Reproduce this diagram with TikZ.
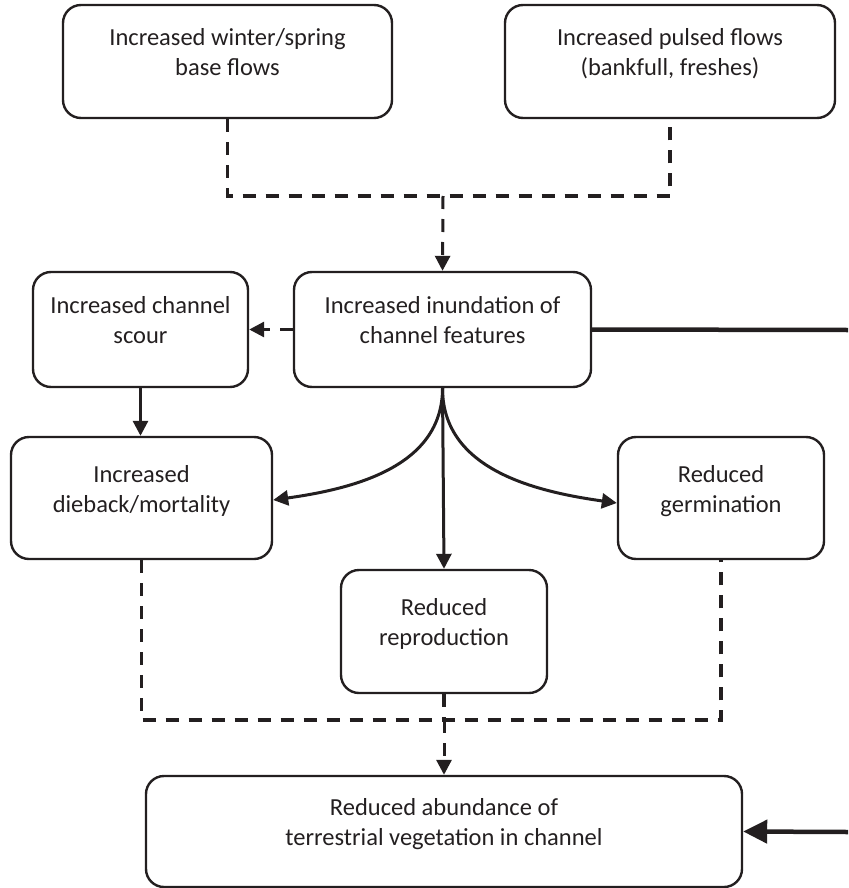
\documentclass[tikz,border=0pt]{standalone}
\usepackage{fontspec}
\setmainfont{Carlito}
\usetikzlibrary{arrows.meta}
\definecolor{ink}{RGB}{35,31,32}

\begin{document}
\begin{tikzpicture}[x=1pt, y=-1pt, ink, line join=miter,
    main/.style = {draw, line width=2.4pt, rounded corners=18pt, align=center,
                   font=\fontsize{24.5}{30}\selectfont, text=ink, text depth=19pt},
    arr/.style = {line width=3pt, -{Triangle[length=15pt,width=15pt]}},
    dash line/.style = {line width=3.5pt, dash pattern=on 13pt off 10pt},
    big arr/.style = {line width=4.5pt, -{Triangle[length=24pt,width=23pt]}}]
        \useasboundingbox (0,0) rectangle (848,888);

        \node[main, minimum width=329pt, minimum height=113pt] (base) at (227.5,61.5) {Increased winter/spring\\base flows};
        \node[main, minimum width=330pt, minimum height=113pt] (pulse) at (670,61.5) {Increased pulsed flows\\(bankfull, freshes)};
        \node[main, minimum width=297pt, minimum height=115pt] (inund) at (442.5,329.5) {Increased inundation of\\channel features};
        \node[main, minimum width=215pt, minimum height=115pt] (scour) at (140.5,329.5) {Increased channel\\scour};
        \node[main, minimum width=261pt, minimum height=122pt] (dieback) at (141.5,498) {Increased\\dieback/mortality};
        \node[main, minimum width=206pt, minimum height=122pt] (germ) at (721,498) {Reduced\\germination};
        \node[main, minimum width=206pt, minimum height=123pt] (repro) at (444,631.5) {Reduced\\reproduction};
        \node[main, minimum width=596pt, minimum height=111pt] (abund) at (444,831.5) {Reduced abundance of\\terrestrial vegetation in channel};

        \coordinate (mergeT) at (443,196);
        \coordinate (mergeB) at (444,720);
        \coordinate (edgeA) at (848,330);
        \coordinate (edgeB) at (848,832);

        % flows into inundation
        \draw[dash line] (base.south) |- (mergeT) -| (pulse.south);
        \draw[dash line, arr, dash pattern=on 13pt off 10pt] (mergeT) -- (inund.north);

        \draw[dash line, arr, dash pattern=on 13pt off 10pt] (inund.west) -- (scour.east);
        \draw[line width=4.5pt] (inund.east) -- (edgeA);

        \draw[arr] (scour.south) -- (scour.south |- dieback.north);
        \draw[arr] (inund.south) to[out=-90, in=8] ([yshift=-2pt]dieback.east);
        \draw[arr] (inund.south) to[out=-90, in=172] ([yshift=-5pt]germ.west);
        \draw[arr] (inund.south) -- (repro.north);

        % outcomes into abundance
        \draw[dash line] (dieback.south) |- (mergeB) -| (germ.south);
        \draw[dash line] (repro.south) -- (mergeB);
        \draw[dash line, arr, dash pattern=on 13pt off 10pt] (mergeB) -- (abund.north);
        \draw[big arr] (edgeB) -- (abund.east);
    \end{tikzpicture}
\end{document}
